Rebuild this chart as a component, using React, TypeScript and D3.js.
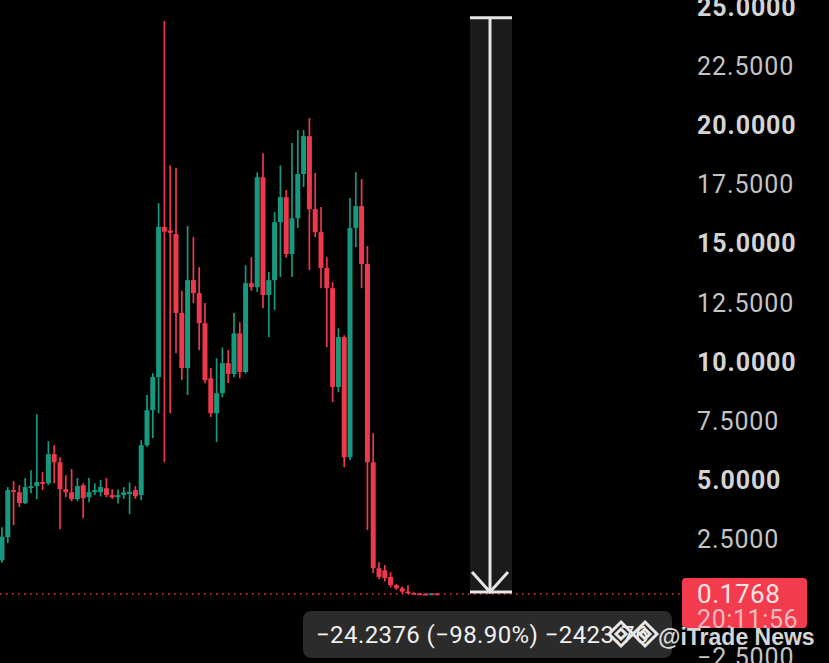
import React, { useEffect, useRef } from 'react';
import * as d3 from 'd3';

// OHLC, oldest first
const opens = [
    1.6, 2.58, 4.57, 4.48, 4.02, 4.70, 4.74, 4.91, 4.86, 6.09,
    5.75, 4.61, 4.48, 4.19, 4.78, 4.27, 4.48, 4.48, 4.65, 4.36,
    4.27, 4.36, 4.4, 4.57, 4.36, 6.47, 7.95, 9.35, 15.7, 15.55,
    15.4, 12.06, 9.73, 13.45, 12.9, 11.63, 9.3, 7.82, 8.67, 9.94,
    9.48, 11.2, 9.56, 13.32, 13.15, 17.8, 12.82, 13.45, 15.9, 16.96,
    14.55, 16.07, 17.94, 19.54, 16.45, 15.48, 13.96, 13.11, 8.93, 11.04,
    5.96, 15.65, 16.58, 14.13, 5.75, 1.27, 1.18, 0.9, 0.55, 0.42,
    0.28, 0.22, 0.2, 0.19, 0.18, 0.2,
];
const highs = [
    3.0, 4.7, 4.95, 4.78, 5.08, 5.41, 7.78, 5.33, 6.64, 6.47,
    5.96, 5.2, 5.46, 5.08, 4.86, 5.08, 4.86, 5.0, 5.08, 4.6,
    4.6, 4.7, 4.9, 4.74, 6.68, 8.59, 9.52, 16.71, 24.41, 18.3,
    18.2, 13.0, 15.74, 15.27, 14.0, 12.48, 9.73, 10.15, 10.6, 10.49,
    12.06, 11.67, 14.08, 14.42, 18.0, 18.82, 13.8, 16.33, 18.3, 17.26,
    19.25, 19.8, 19.8, 20.3, 17.98, 16.54, 14.42, 13.37, 11.42, 11.12,
    16.92, 18.02, 17.72, 14.89, 6.98, 1.52, 1.4, 1.1, 0.6, 0.5,
    0.55, 0.25, 0.22, 0.21, 0.21, 0.2,
];
const lows = [
    1.5, 2.33, 3.09, 3.85, 3.98, 4.44, 4.19, 4.57, 4.78, 4.86,
    2.92, 4.27, 4.10, 4.10, 3.38, 4.06, 4.36, 4.3, 4.27, 4.2,
    4.0, 4.2, 3.55, 4.2, 4.15, 6.39, 6.77, 7.82, 5.75, 7.82,
    10.36, 9.22, 8.59, 12.48, 10.49, 9.09, 7.66, 6.6, 8.5, 9.1,
    9.35, 9.3, 9.5, 13.0, 12.95, 12.27, 11.04, 12.18, 13.58, 14.4,
    13.58, 15.65, 17.39, 13.87, 15.27, 13.11, 10.62, 8.29, 8.71, 5.54,
    5.84, 14.85, 13.11, 2.88, 1.06, 0.8, 0.7, 0.45, 0.35, 0.2,
    0.18, 0.17, 0.16, 0.16, 0.17, 0.17,
];
const closes = [
    2.6, 4.57, 4.5, 4.02, 4.70, 4.74, 4.91, 4.86, 6.09, 5.75,
    4.61, 4.48, 4.19, 4.74, 4.23, 4.48, 4.57, 4.70, 4.36, 4.27,
    4.36, 4.48, 4.5, 4.31, 6.47, 7.95, 9.35, 15.70, 15.5, 15.45,
    12.06, 9.73, 13.45, 12.9, 11.63, 9.22, 7.82, 8.67, 9.94, 9.48,
    11.2, 9.56, 13.32, 13.15, 17.8, 12.82, 13.45, 15.9, 16.96, 14.55,
    16.07, 17.94, 19.54, 16.45, 15.48, 13.96, 13.11, 8.93, 11.04, 5.96,
    15.65, 16.58, 14.13, 5.75, 1.27, 0.9, 0.85, 0.55, 0.42, 0.28,
    0.22, 0.2, 0.19, 0.18, 0.2, 0.1768,
];

const yTicks = [-2.5, 2.5, 5, 7.5, 10, 12.5, 15, 17.5, 20, 22.5, 25];
const lastPrice = 0.1768;
const lastTime = '20:11:56';
const measureChange = -24.2376;
const measureText = '−24.2376 (−98.90%) −2423.76';
const watermark = '@iTrade News';

const W = 829;
const H = 663;
const UP = '#17997f';
const DOWN = '#ec3a4c';

export default function App() {
    const svgRef = useRef<SVGSVGElement>(null);

    useEffect(() => {
        if (!svgRef.current) return;
        const svg = d3.select(svgRef.current);
        svg.selectAll('*').remove();

        const x = d3.scaleLinear().domain([0, opens.length - 1]).range([2, 437]);
        const y = d3.scaleLinear().domain([0, 25]).range([598.2, 7]);
        const step = x(1) - x(0);
        const bodyW = step * 0.86;

        svg.append('rect').attr('width', W).attr('height', H).attr('fill', '#000');

        // measure tool band
        const top = lastPrice - measureChange;
        svg.append('rect')
            .attr('x', 470).attr('width', 42)
            .attr('y', y(top) - 3).attr('height', y(lastPrice) - y(top) + 2)
            .attr('fill', '#1b1b1b');

        // candles
        const candles = svg.append('g');
        opens.forEach((o, i) => {
            const c = closes[i];
            const col = c >= o ? UP : DOWN;
            candles.append('line')
                .attr('x1', x(i)).attr('x2', x(i))
                .attr('y1', y(highs[i])).attr('y2', y(lows[i]))
                .attr('stroke', col).attr('stroke-width', 1.7);
            const y0 = y(Math.max(o, c));
            const h = Math.max(1.8, Math.abs(y(o) - y(c)));
            candles.append('rect')
                .attr('x', x(i) - bodyW / 2).attr('width', bodyW)
                .attr('y', y0).attr('height', h)
                .attr('fill', col);
        });

        // dotted last-price line
        svg.append('line')
            .attr('x1', 0).attr('x2', 682)
            .attr('y1', y(lastPrice)).attr('y2', y(lastPrice))
            .attr('stroke', DOWN).attr('stroke-width', 1.3)
            .attr('stroke-dasharray', '1.5,4.5');

        // measure arrow
        const mx = 490;
        const yt = y(top) - 3;
        const yb = y(lastPrice) - 2;
        const arrow = svg.append('g').attr('stroke', '#e6e6e6').attr('stroke-width', 3).attr('fill', 'none');
        arrow.append('line').attr('x1', 470).attr('x2', 512).attr('y1', yt).attr('y2', yt);
        arrow.append('line').attr('x1', mx).attr('x2', mx).attr('y1', yt).attr('y2', yb);
        arrow.append('line').attr('x1', 470).attr('x2', 512).attr('y1', yb).attr('y2', yb);
        arrow.append('path').attr('d', `M${mx - 18},${yb - 20}L${mx},${yb}L${mx + 18},${yb - 20}`);

        // price axis labels
        svg.append('g')
            .selectAll('text')
            .data(yTicks)
            .join('text')
            .attr('x', 697)
            .attr('y', d => y(d))
            .attr('dy', '0.36em')
            .attr('font-family', 'Roboto, "Liberation Sans", sans-serif')
            .attr('font-size', 25)
            .attr('font-weight', d => (d % 5 === 0 ? 700 : 400))
            .attr('letter-spacing', 0.9)
            .attr('fill', d => (d % 5 === 0 ? '#d4d4d4' : '#c4c4c4'))
            .text(d => (d < 0 ? '−' : '') + Math.abs(d).toFixed(4));

        // last price tag
        svg.append('rect')
            .attr('x', 682).attr('y', y(lastPrice) - 16)
            .attr('width', 125).attr('height', 50).attr('rx', 4)
            .attr('fill', '#f23c4e');
        svg.append('text')
            .attr('x', 697).attr('y', y(lastPrice) + 9)
            .attr('font-family', 'Roboto, "Liberation Sans", sans-serif')
            .attr('font-size', 26).attr('letter-spacing', 0.6)
            .attr('fill', '#fbe3e5')
            .text(lastPrice.toFixed(4));
        svg.append('text')
            .attr('x', 697).attr('y', y(lastPrice) + 34)
            .attr('font-family', 'Roboto, "Liberation Sans", sans-serif')
            .attr('font-size', 25).attr('letter-spacing', 0.6)
            .attr('fill', '#f7b9c0')
            .text(lastTime);

        // measure readout
        svg.append('clipPath').attr('id', 'readout')
            .append('rect').attr('x', 303).attr('y', 611).attr('width', 369).attr('height', 47).attr('rx', 8);
        svg.append('rect')
            .attr('x', 303).attr('y', 611).attr('width', 369).attr('height', 47).attr('rx', 8)
            .attr('fill', '#2b2b2b');
        svg.append('text')
            .attr('clip-path', 'url(#readout)')
            .attr('x', 316).attr('y', 643)
            .attr('font-family', 'Roboto, "Liberation Sans", sans-serif')
            .attr('font-size', 24).attr('letter-spacing', 0.4)
            .attr('fill', '#f0f0f0')
            .text(measureText);

        // watermark
        const wm = svg.append('g').attr('fill', 'none').attr('stroke', '#e8e8e8').attr('stroke-width', 3);
        [621, 645].forEach(cx => {
            wm.append('path').attr('d', `M${cx},622L${cx + 12},634L${cx},646L${cx - 12},634Z`);
            wm.append('path').attr('d', `M${cx},629L${cx + 5},634L${cx},639L${cx - 5},634Z`);
        });
        svg.append('text')
            .attr('x', 658).attr('y', 645)
            .attr('font-family', '"Liberation Sans", sans-serif')
            .attr('font-size', 23).attr('font-weight', 700)
            .attr('fill', '#ededed').attr('opacity', 0.9)
            .text(watermark);
    }, []);

    return (
        <div style={{ position: 'fixed', left: 0, top: 0, width: W, height: H, background: '#000' }}>
            <svg ref={svgRef} width={W} height={H} style={{ display: 'block' }} />
        </div>
    );
}
